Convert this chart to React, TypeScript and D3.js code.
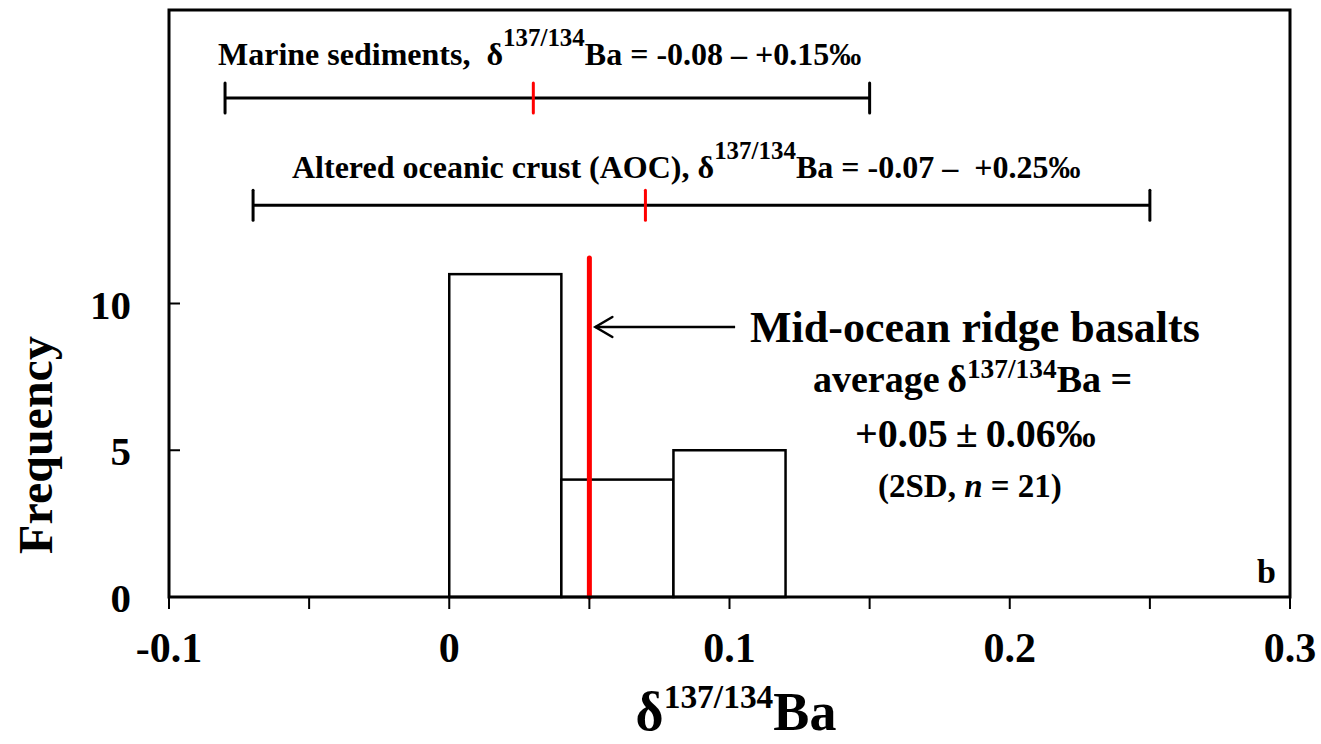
import React from 'react';
import * as d3 from 'd3';

// histogram of MORB delta 137/134 Ba
const binEdges = [0, 0.04, 0.08, 0.12];
const binCounts = [11, 4, 5];
const morbMean = 0.05;
const morbLineTop = 11.55;

// reference ranges shown as bars above the histogram
const rangeMin = [-0.08, -0.07];
const rangeMax = [0.15, 0.25];
const rangeMid = [0.03, 0.07];

const xTickLabels = ['-0.1', '0', '0.1', '0.2', '0.3'];
const xTickValues = [-0.1, 0, 0.1, 0.2, 0.3];
const xMinorTicks = [-0.1, -0.05, 0, 0.05, 0.1, 0.15, 0.2, 0.25, 0.3];
const yTickLabels = [0, 5, 10];

// layout
const W = 1321;
const H = 744;
const M = { left: 169, right: 31, top: 10, bottom: 147 };
const rangeRows = [17.0, 13.35];
const FONT = '"Liberation Serif", "Times New Roman", serif';

type Part = { t: string; sup?: boolean; it?: boolean };

function Rich({ x, y, size, parts, supScale = 0.75, supShift = 0.6, anchor = 'start' }:
  { x: number; y: number; size: number; parts: Part[]; supScale?: number; supShift?: number; anchor?: string }) {
  let prevSup = false;
  return (
    <text x={x} y={y} fontSize={size} fontFamily={FONT} fontWeight="bold" textAnchor={anchor}
      style={{ whiteSpace: 'pre' }} fill="#000">
      {parts.map((p, i) => {
        let dy = 0;
        if (p.sup && !prevSup) dy = -supShift * size;
        if (!p.sup && prevSup) dy = supShift * size;
        prevSup = !!p.sup;
        return (
          <tspan key={i} dy={dy} fontSize={p.sup ? size * supScale : size}
            fontStyle={p.it ? 'italic' : undefined}>{p.t}</tspan>
        );
      })}
    </text>
  );
}

export default function App() {
  const x = d3.scaleLinear().domain([-0.1, 0.3]).range([M.left, W - M.right]);
  const y = d3.scaleLinear().domain([0, 20]).range([H - M.bottom, M.top]);
  const y0 = y(0);

  const bins = binCounts.map((c, i) => ({ x0: binEdges[i], x1: binEdges[i + 1], c }));

  const arrowY = y(9.2);
  const arrowTip = x(morbMean) + 6;
  const arrowTail = x(0.102);

  return (
    <svg width={W} height={H} style={{ position: 'absolute', left: 0, top: 0, background: '#fff' }}>
      {/* histogram bars */}
      {bins.map((b, i) => (
        <rect key={i} x={x(b.x0)} y={y(b.c)} width={x(b.x1) - x(b.x0)} height={y0 - y(b.c)}
          fill="#fff" stroke="#000" strokeWidth={2.5} />
      ))}

      {/* MORB mean line */}
      <line x1={x(morbMean)} x2={x(morbMean)} y1={y0} y2={y(morbLineTop)}
        stroke="#ff0000" strokeWidth={5} strokeLinecap="round" />

      {/* frame */}
      <rect x={M.left} y={M.top} width={x(0.3) - M.left} height={y0 - M.top}
        fill="none" stroke="#000" strokeWidth={3} />

      {/* x ticks */}
      {xMinorTicks.map((t, i) => (
        <line key={i} x1={x(t)} x2={x(t)} y1={y0} y2={y0 + 12} stroke="#000" strokeWidth={2} />
      ))}
      {xTickValues.map((t, i) => (
        <text key={i} x={x(t)} y={662} textAnchor="middle" fontSize={42} fontFamily={FONT}
          fontWeight="bold">{xTickLabels[i]}</text>
      ))}

      {/* y ticks */}
      {yTickLabels.map((t, i) => (
        <g key={i}>
          <line x1={M.left} x2={M.left + 11} y1={y(t)} y2={y(t)} stroke="#000" strokeWidth={2} />
          <text x={131} y={y(t) + 15} textAnchor="end" fontSize={41} fontFamily={FONT}
            fontWeight="bold">{t}</text>
        </g>
      ))}

      {/* reference ranges */}
      {rangeMin.map((mn, i) => {
        const ry = y(rangeRows[i]);
        return (
          <g key={i}>
            <line x1={x(mn)} x2={x(rangeMax[i])} y1={ry} y2={ry} stroke="#000" strokeWidth={3} />
            <line x1={x(mn)} x2={x(mn)} y1={ry - 15} y2={ry + 15} stroke="#000" strokeWidth={3} strokeLinecap="round" />
            <line x1={x(rangeMax[i])} x2={x(rangeMax[i])} y1={ry - 15} y2={ry + 15} stroke="#000" strokeWidth={3} strokeLinecap="round" />
            <line x1={x(rangeMid[i])} x2={x(rangeMid[i])} y1={ry - 15} y2={ry + 15} stroke="#ff0000" strokeWidth={3} strokeLinecap="round" />
          </g>
        );
      })}

      <Rich x={218} y={65} size={32} supScale={0.78} supShift={0.6} parts={[
        { t: 'Marine sediments,  \u03b4' }, { t: '137/134', sup: true }, { t: 'Ba = -0.08 \u2013 +0.15\u2030' },
      ]} />
      <Rich x={292} y={178} size={32} supScale={0.78} supShift={0.6} parts={[
        { t: 'Altered oceanic crust (AOC), \u03b4' }, { t: '137/134', sup: true }, { t: 'Ba = -0.07 \u2013  +0.25\u2030' },
      ]} />

      {/* arrow */}
      <line x1={arrowTail} x2={arrowTip} y1={arrowY} y2={arrowY} stroke="#000" strokeWidth={2.5} />
      <polyline points={`${arrowTip + 17},${arrowY - 10} ${arrowTip},${arrowY} ${arrowTip + 17},${arrowY + 10}`}
        fill="none" stroke="#000" strokeWidth={2.5} strokeLinecap="round" />

      <Rich x={750} y={342} size={44} parts={[{ t: 'Mid-ocean ridge basalts' }]} />
      <Rich x={813} y={392} size={38} supScale={0.72} supShift={0.36} parts={[
        { t: 'average\u2009\u03b4' }, { t: '137/134', sup: true }, { t: 'Ba =' },
      ]} />
      <Rich x={855} y={447} size={40} parts={[{ t: '+0.05\u2009\u00b1\u20090.06\u2030' }]} />
      <Rich x={878} y={497} size={33} parts={[
        { t: '(2SD, ' }, { t: 'n', it: true }, { t: ' = 21)' },
      ]} />
      <Rich x={1257} y={583} size={34} parts={[{ t: 'b' }]} />

      {/* axis titles */}
      <g transform={`translate(52,445) rotate(-90)`}>
        <text x={0} y={0} textAnchor="middle" fontSize={48} fontFamily={FONT} fontWeight="bold">Frequency</text>
      </g>
      <Rich x={736} y={730} size={54} anchor="middle" supScale={0.62} supShift={0.4} parts={[
        { t: '\u03b4' }, { t: '137/134', sup: true }, { t: 'Ba' },
      ]} />
    </svg>
  );
}
